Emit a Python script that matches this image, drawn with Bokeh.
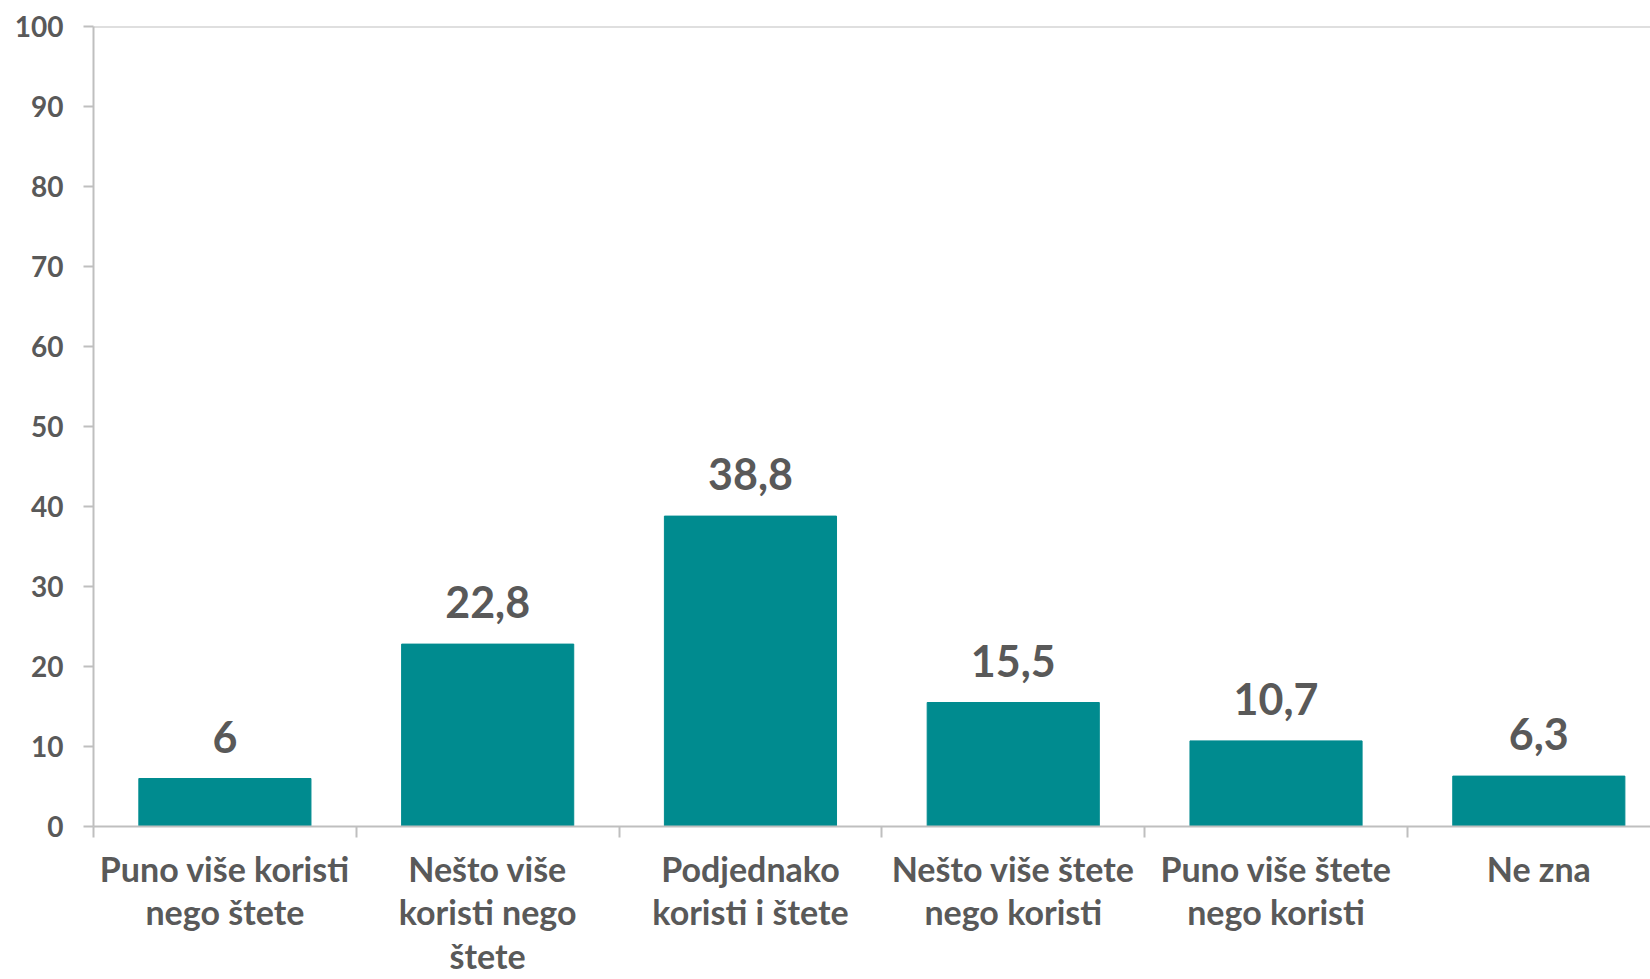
from bokeh.plotting import figure
from bokeh.models import Range1d, FixedTicker, Span, ColumnDataSource
from bokeh.embed import file_html
from bokeh.resources import INLINE
from bokeh.core.properties import value

categories = ["Puno više koristi\nnego štete", "Nešto više\nkoristi nego\nštete",
              "Podjednako\nkoristi i štete", "Nešto više štete\nnego koristi",
              "Puno više štete\nnego koristi", "Ne zna"]
values = [6, 22.8, 38.8, 15.5, 10.7, 6.3]
value_labels = ["6", "22,8", "38,8", "15,5", "10,7", "6,3"]
y_ticks = [0, 10, 20, 30, 40, 50, 60, 70, 80, 90, 100]

FONT = "Lato"
TXT = "#595959"
AX = "#BFBFBF"
BAR = "#008B8F"

xs = [i + 0.5 for i in range(len(categories))]
src = ColumnDataSource(dict(x=xs, top=values, lab=value_labels))

p = figure(width=1650, height=979, output_backend="svg", toolbar_location=None,
           x_range=Range1d(0, 5.925), y_range=Range1d(0, 100),
           min_border_left=93, min_border_right=0, min_border_top=26, min_border_bottom=153)
p.outline_line_color = None
p.xgrid.visible = False
p.ygrid.visible = False
p.background_fill_color = "white"
p.border_fill_color = "white"

p.vbar(x="x", top="top", bottom=0, width=0.655, color=BAR, source=src)
p.text(x="x", y="top", text="lab", source=src, text_align="center", text_baseline="alphabetic",
       y_offset=-42, text_font=value(FONT), text_font_style="bold", text_font_size="43px",
       text_color=TXT)

p.add_layout(Span(location=100, dimension="width", line_color=AX, line_width=2))

# x axis
p.xaxis.ticker = FixedTicker(ticks=xs, minor_ticks=list(range(len(categories))))
p.xaxis.major_label_overrides = {x: c for x, c in zip(xs, categories)}
p.xaxis.major_tick_out = 0
p.xaxis.major_tick_in = 0
p.xaxis.minor_tick_out = 11
p.xaxis.minor_tick_in = 0
p.xaxis.minor_tick_line_color = AX
p.xaxis.minor_tick_line_width = 2
p.xaxis.axis_line_color = AX
p.xaxis.axis_line_width = 2
p.xaxis.major_label_text_font = FONT
p.xaxis.major_label_text_font_style = "bold"
p.xaxis.major_label_text_font_size = "34px"
p.xaxis.major_label_text_color = TXT
p.xaxis.major_label_text_line_height = 1.07
p.xaxis.major_label_standoff = 10

# y axis
p.yaxis.ticker = FixedTicker(ticks=y_ticks)
p.yaxis.major_tick_out = 10
p.yaxis.major_tick_in = 0
p.yaxis.minor_tick_out = 0
p.yaxis.minor_tick_in = 0
p.yaxis.major_tick_line_color = AX
p.yaxis.major_tick_line_width = 2
p.yaxis.axis_line_color = AX
p.yaxis.axis_line_width = 2
p.yaxis.major_label_text_font = FONT
p.yaxis.major_label_text_font_style = "bold"
p.yaxis.major_label_text_font_size = "28px"
p.yaxis.major_label_text_color = TXT
p.yaxis.major_label_standoff = 20

open("out.html", "w").write(file_html(p, INLINE))
